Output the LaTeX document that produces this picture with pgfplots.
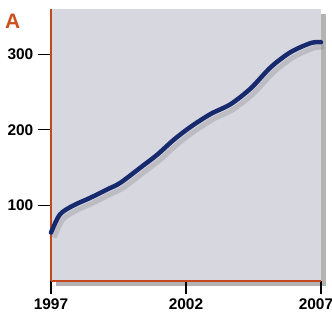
\documentclass[border=0pt]{standalone}
\usepackage{pgfplots}
\pgfplotsset{compat=1.18}
\usepackage{fontspec}
\setmainfont{Liberation Sans}
\usetikzlibrary{shadows}
\definecolor{bgcol}{RGB}{215,215,223}
\definecolor{axcol}{RGB}{196,72,28}
\definecolor{linecol}{RGB}{24,42,110}
\definecolor{letcol}{RGB}{205,80,30}
\pgfplotstableread{
x y
1997.00 64
1997.33 88
1997.83 100
1998.45 110
1999.07 121
1999.57 130
2000.31 150
2000.93 167
2001.55 187
2002.17 204
2002.91 221
2003.65 234
2004.40 255
2005.14 283
2005.88 303
2006.63 315
2007.00 316
}\growth
\begin{document}
\begin{tikzpicture}
\useasboundingbox (-51bp,-35bp) rectangle (281bp,281bp);
\begin{axis}[
  at={(0,0)}, anchor=origin,
  scale only axis,
  width=270bp, height=272bp,
  xmin=1997, xmax=2007, ymin=0, ymax=360,
  axis x line*=bottom, axis y line*=left,
  axis line style={draw=axcol, line width=1.8bp, -},
  axis background/.style={fill=bgcol, drop shadow={shadow xshift=5bp, shadow yshift=-5bp, fill=black!50, opacity=0.6}},
  xtick={1997,2002,2007}, ytick={100,200,300},
  xticklabels={1997,2002,{2007\hspace*{10bp}}},
  tick align=outside, major tick length=13bp,
  tick style={draw=black, line width=1.1bp},
  x tick label style={font=\fontsize{15.5}{17}\selectfont\bfseries, yshift=-1bp},
  y tick label style={font=\fontsize{15.5}{17}\selectfont\bfseries, inner sep=4.5bp},
  /pgf/number format/assume math mode=true,
  clip=false,
]
\addplot[smooth, draw=black!50, opacity=0.3, line width=5bp, shift={(3bp,-5bp)}] table {\growth};
\addplot[smooth, draw=linecol, line width=4.5bp, line cap=round] table {\growth};
\end{axis}
\node[anchor=north west, text=letcol, font=\fontsize{21}{22}\selectfont\bfseries, inner sep=0pt] at (-46bp,267bp) {A};
\end{tikzpicture}
\end{document}
